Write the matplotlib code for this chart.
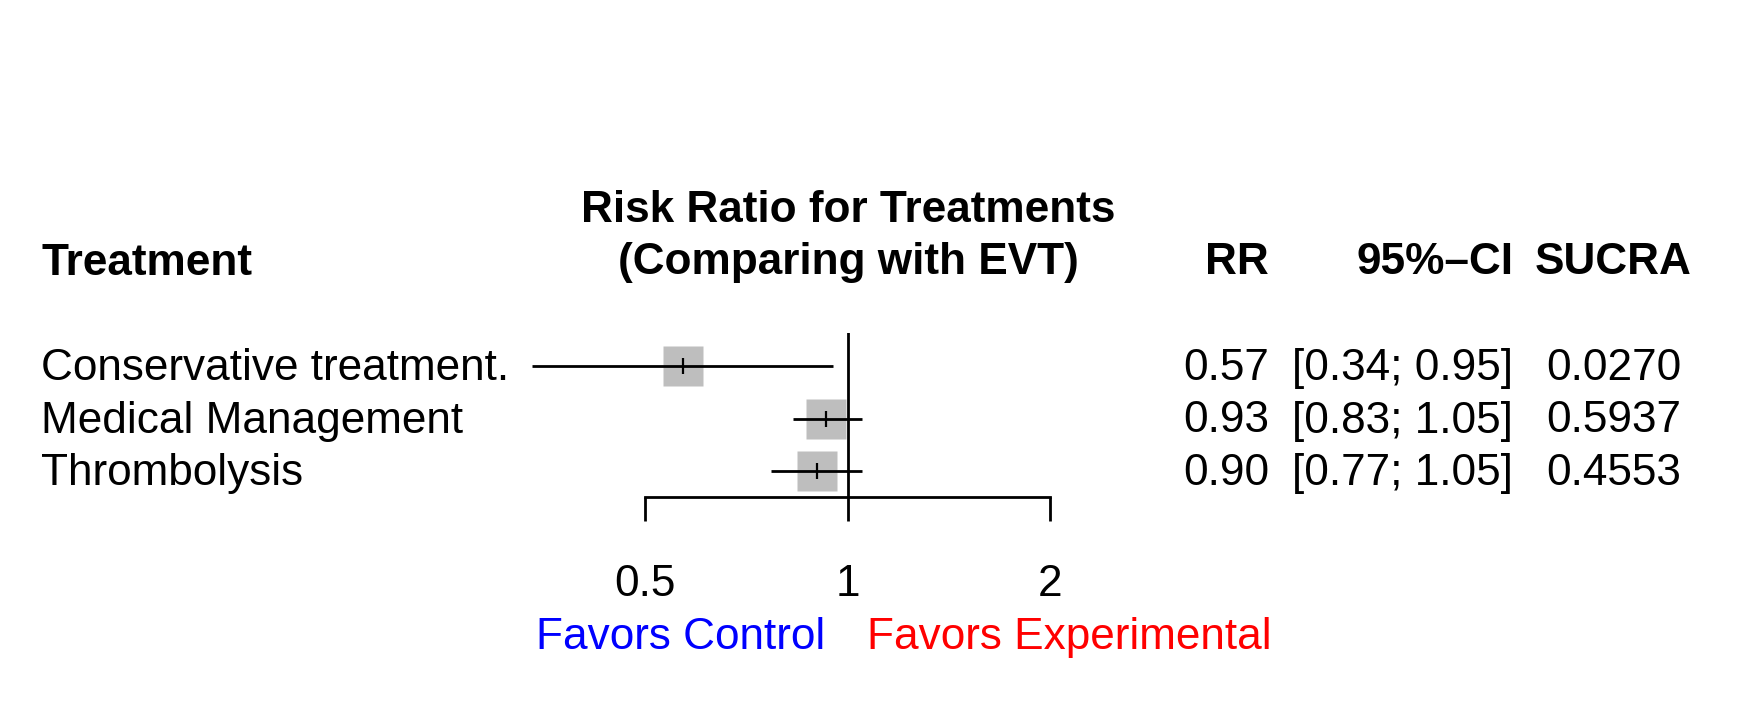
import matplotlib
matplotlib.use("Agg")
import matplotlib.pyplot as plt
import numpy as np

plt.rcParams['font.family'] = ['Liberation Sans', 'DejaVu Sans']

treatments = ["Conservative treatment.", "Medical Management", "Thrombolysis"]
rr = [0.57, 0.93, 0.90]
ci_low = [0.34, 0.83, 0.77]
ci_high = [0.95, 1.05, 1.05]
sucra = [0.0270, 0.5937, 0.4553]
xticks = [0.5, 1, 2]
xtick_labels = ["0.5", "1", "2"]

W, H = 1755, 713
DPI = 100
fig = plt.figure(figsize=(W / DPI, H / DPI), dpi=DPI)
FS = 31.8
LW = 2.0

def fx(px):
    return px / W

def fy(py):
    return 1 - py / H

# forest axes: x 645..1050 px, y 333..497 px
ax_left, ax_right, ax_top, ax_bot = 645, 1050, 333, 497
ax = fig.add_axes([fx(ax_left), fy(ax_bot), (ax_right - ax_left) / W, (ax_bot - ax_top) / H])
ax.set_xscale('log')
ax.set_xlim(0.5, 2)
row0, step = 366, 52.5
ax.set_ylim((ax_bot - row0) / step, (ax_top - row0) / step)
ax.patch.set_alpha(0)
for s in ['top', 'left', 'right']:
    ax.spines[s].set_visible(False)
ax.spines['bottom'].set_linewidth(LW)
ax.set_yticks([])
ax.set_xticks(xticks)
ax.set_xticklabels(xtick_labels)
ax.xaxis.set_minor_locator(matplotlib.ticker.NullLocator())
ax.tick_params(axis='x', length=17, width=LW, labelsize=FS, pad=31, direction='out')

ax.axvline(1, color='black', lw=LW, zorder=2)
ypos = np.arange(len(treatments))
ax.plot(rr, ypos, linestyle='none', marker='s', ms=29.5, mfc='#BEBEBE', mec='none', zorder=3, clip_on=False)
for i in range(len(treatments)):
    ax.plot([ci_low[i], ci_high[i]], [ypos[i], ypos[i]], color='black', lw=LW, zorder=4,
            clip_on=False, solid_capstyle='butt')
ax.plot(rr, ypos, linestyle='none', marker='|', ms=12, mew=1.6, color='black', zorder=5, clip_on=False)

# headers
fig.text(fx(41), fy(275), "Treatment", fontsize=FS, fontweight='bold', ha='left', va='baseline')
fig.text(fx(848), fy(222), "Risk Ratio for Treatments", fontsize=FS, fontweight='bold', ha='center', va='baseline')
fig.text(fx(848), fy(274), "(Comparing with EVT)", fontsize=FS, fontweight='bold', ha='center', va='baseline')
fig.text(fx(1269), fy(274), "RR", fontsize=FS, fontweight='bold', ha='right', va='baseline')
fig.text(fx(1513), fy(274), "95%\u2013CI", fontsize=FS, fontweight='bold', ha='right', va='baseline')
fig.text(fx(1692), fy(274), "SUCRA", fontsize=FS, fontweight='bold', ha='right', va='baseline')

for i, name in enumerate(treatments):
    base = row0 + step * i + 14
    fig.text(fx(41), fy(base), name, fontsize=FS, ha='left', va='baseline')
    fig.text(fx(1269), fy(base), f"{rr[i]:.2f}", fontsize=FS, ha='right', va='baseline')
    fig.text(fx(1513), fy(base), f"[{ci_low[i]:.2f}; {ci_high[i]:.2f}]", fontsize=FS, ha='right', va='baseline')
    fig.text(fx(1681), fy(base), f"{sucra[i]:.4f}", fontsize=FS, ha='right', va='baseline')

fig.text(fx(825), fy(649), "Favors Control", fontsize=FS, color='#0000FF', ha='right', va='baseline')
fig.text(fx(867), fy(649), "Favors Experimental", fontsize=FS, color='#FF0000', ha='left', va='baseline')

fig.savefig("out.png", dpi=DPI, facecolor='white')
